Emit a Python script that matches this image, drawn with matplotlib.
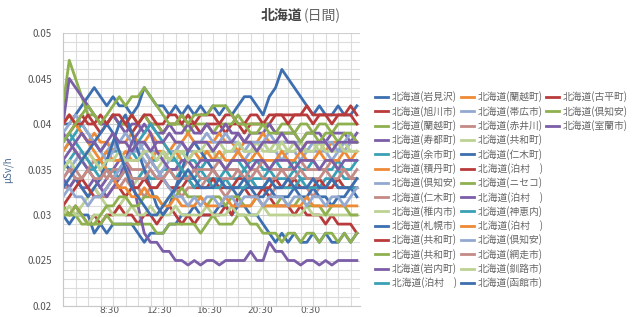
import numpy as np
import matplotlib
matplotlib.use('Agg')
import matplotlib.pyplot as plt
from matplotlib.lines import Line2D

plt.rcParams['font.family'] = ['Noto Sans CJK JP', 'DejaVu Sans']

# 測定時刻 (時, 4:45 から 30 分ごと)
times = 4.75 + 0.5 * np.arange(48)

# 系列名 (凡例の順)
names = [
    '北海道(岩見沢)', '北海道(旭川市)', '北海道(蘭越町)', '北海道(寿都町)', '北海道(余市町)',
    '北海道(積丹町)', '北海道(倶知安)', '北海道(仁木町)', '北海道(稚内市)', '北海道(札幌市)',
    '北海道(共和町)', '北海道(共和町)', '北海道(岩内町)', '北海道(泊村　)', '北海道(蘭越町)',
    '北海道(帯広市)', '北海道(赤井川)', '北海道(共和町)', '北海道(仁木町)', '北海道(泊村　)',
    '北海道(ニセコ)', '北海道(泊村　)', '北海道(神恵内)', '北海道(泊村　)', '北海道(倶知安)',
    '北海道(網走市)', '北海道(釧路市)', '北海道(函館市)', '北海道(古平町)', '北海道(倶知安)',
    '北海道(室蘭市)',
]

# 線量 (0.001 μSv/h 単位)
iwamizawa = [40, 40, 41, 42, 43, 44, 43, 42, 43, 42, 42, 41,
             42, 44, 43, 42, 42, 41, 42, 41, 42, 41, 42, 41,
             42, 41, 42, 41, 42, 43, 43, 42, 41, 43, 44, 46,
             45, 44, 43, 42, 41, 42, 41, 41, 42, 41, 41, 42]
asahikawa = [38, 39, 40, 41, 40, 40, 39, 40, 41, 40, 40, 39,
             40, 41, 40, 40, 39, 40, 40, 41, 40, 40, 39, 40,
             40, 40, 39, 40, 40, 39, 40, 40, 40, 40, 41, 41,
             41, 41, 41, 42, 41, 41, 41, 41, 41, 41, 42, 41]
rankoshi1 = [42, 47, 45, 43, 41, 41, 40, 40, 41, 40, 40, 41,
             40, 41, 40, 40, 39, 40, 40, 40, 39, 40, 40, 40,
             39, 40, 40, 40, 41, 40, 40, 40, 40, 40, 39, 40,
             40, 39, 40, 40, 39, 40, 40, 39, 40, 40, 40, 40]
suttsu = [40, 45, 44, 43, 42, 41, 40, 40, 41, 40, 39, 40,
          40, 39, 40, 39, 39, 40, 39, 39, 40, 39, 39, 40,
          39, 39, 40, 39, 39, 38, 39, 39, 39, 40, 39, 39,
          39, 39, 38, 39, 39, 39, 38, 39, 39, 39, 38, 39]
yoichi = [37, 38, 39, 40, 39, 38, 37, 38, 37, 37, 36, 37,
          36, 37, 36, 36, 37, 36, 36, 37, 36, 36, 35, 36,
          36, 36, 35, 36, 36, 35, 36, 36, 35, 35, 36, 35,
          35, 36, 35, 35, 36, 35, 35, 35, 36, 35, 35, 36]
shakotan = [40, 41, 40, 39, 38, 39, 38, 38, 37, 38, 38, 39,
            38, 38, 39, 38, 38, 37, 38, 38, 39, 38, 38, 38,
            38, 39, 38, 38, 37, 38, 38, 38, 39, 38, 38, 38,
            38, 38, 37, 38, 38, 38, 37, 38, 38, 37, 38, 38]
kutchan1 = [34, 35, 36, 37, 36, 35, 36, 37, 38, 37, 36, 37,
            37, 38, 37, 37, 36, 37, 37, 38, 37, 37, 36, 37,
            37, 36, 37, 37, 37, 36, 37, 37, 38, 37, 37, 36,
            37, 37, 36, 37, 37, 37, 37, 36, 37, 37, 38, 38]
niki1 = [33, 33, 34, 33, 32, 33, 32, 32, 33, 33, 34, 33,
         33, 32, 33, 33, 34, 33, 33, 32, 33, 33, 33, 34,
         33, 33, 32, 33, 33, 33, 34, 33, 33, 32, 33, 33,
         34, 33, 33, 33, 32, 33, 33, 34, 33, 33, 33, 34]
wakkanai = [31, 30, 30, 31, 32, 33, 32, 31, 30, 31, 32, 33,
            34, 35, 36, 35, 36, 37, 36, 37, 37, 38, 37, 37,
            37, 36, 37, 37, 38, 37, 37, 38, 37, 37, 38, 37,
            37, 38, 37, 37, 38, 37, 38, 37, 37, 38, 37, 37]
sapporo = [30, 29, 30, 30, 30, 28, 29, 28, 29, 29, 29, 29,
           28, 27, 28, 28, 28, 29, 29, 30, 30, 31, 30, 30,
           30, 31, 31, 30, 31, 31, 30, 30, 29, 28, 27, 28,
           27, 28, 27, 27, 28, 27, 28, 27, 27, 28, 27, 28]
kyowa1 = [31, 30, 31, 30, 29, 30, 29, 30, 30, 31, 30, 30,
          29, 30, 30, 29, 30, 31, 30, 29, 30, 29, 30, 30,
          30, 30, 31, 30, 32, 33, 32, 32, 33, 32, 31, 31,
          31, 30, 31, 30, 30, 30, 29, 30, 29, 29, 29, 28]
kyowa2 = [31, 30, 30, 29, 29, 29, 29, 30, 29, 29, 29, 29,
          29, 29, 29, 28, 28, 29, 29, 29, 29, 29, 28, 29,
          30, 29, 29, 29, 30, 30, 29, 29, 28, 28, 28, 27,
          28, 28, 27, 28, 28, 27, 28, 28, 27, 28, 27, 28]
iwanai = [34, 33, 34, 33, 33, 34, 33, 34, 35, 36, 36, 34,
          31, 28, 27, 27, 26, 26, 25, 25, 24.5, 25, 24.5, 25,
          25, 24.5, 25, 25, 25, 25, 26, 25, 25, 27, 26, 26,
          25, 25, 24.5, 25, 25, 24.5, 25, 24.5, 25, 25, 25, 25]
tomari1 = [35, 36, 37, 36, 35, 35, 34, 35, 35, 34, 35, 34,
           34, 35, 34, 34, 35, 35, 34, 35, 34, 34, 35, 34,
           34, 34, 35, 34, 34, 35, 34, 34, 34, 35, 34, 34,
           34, 35, 34, 34, 34, 33, 34, 34, 35, 34, 34, 34]
rankoshi2 = [37, 38, 37, 36, 37, 36, 36, 37, 36, 36, 37, 36,
             36, 37, 36, 37, 37, 36, 37, 36, 36, 37, 36, 37,
             36, 37, 36, 36, 37, 36, 36, 37, 36, 36, 36, 37,
             36, 36, 37, 36, 36, 37, 36, 36, 36, 37, 36, 37]
obihiro = [39, 40, 41, 40, 39, 38, 37, 36, 37, 38, 39, 38,
           37, 36, 35, 34, 35, 36, 37, 38, 37, 38, 38, 39,
           38, 38, 39, 38, 38, 37, 38, 38, 38, 39, 38, 38,
           38, 38, 38, 37, 38, 38, 38, 38, 37, 38, 39, 38]
akaigawa = [36, 35, 35, 34, 35, 36, 35, 34, 35, 35, 36, 35,
            35, 35, 36, 35, 34, 35, 35, 35, 36, 35, 35, 35,
            35, 36, 35, 35, 35, 34, 35, 35, 36, 35, 35, 35,
            35, 35, 36, 35, 35, 35, 35, 36, 35, 35, 34, 35]
kyowa3 = [30, 31, 30, 30, 29, 30, 30, 31, 30, 30, 30, 31,
          30, 30, 31, 30, 30, 30, 31, 30, 30, 30, 30, 31,
          30, 30, 30, 31, 30, 30, 30, 30, 31, 30, 30, 30,
          30, 30, 30, 31, 30, 30, 30, 30, 30, 30, 30, 30]
niki2 = [36, 35, 34, 33, 32, 33, 34, 36, 38, 40, 41, 39,
         37, 35, 33, 31, 30, 31, 33, 35, 37, 38, 37, 36,
         35, 34, 33, 33, 32, 33, 33, 32, 32, 33, 32, 32,
         32, 33, 32, 32, 33, 32, 32, 31, 32, 32, 33, 32]
tomari2 = [31, 32, 33, 34, 33, 32, 32, 33, 34, 33, 32, 33,
           33, 34, 33, 33, 34, 33, 33, 33, 34, 33, 33, 33,
           34, 33, 33, 33, 34, 34, 33, 33, 33, 33, 34, 33,
           33, 34, 33, 33, 33, 34, 33, 33, 34, 33, 33, 33]
niseko = [30, 30, 31, 30, 29, 29, 30, 31, 31, 32, 32, 31,
          31, 32, 32, 32, 31, 32, 32, 33, 32, 32, 32, 31,
          32, 32, 31, 32, 32, 31, 31, 32, 31, 31, 31, 32,
          31, 31, 32, 31, 31, 31, 30, 31, 31, 31, 30, 30]
tomari3 = [39, 38, 37, 36, 35, 34, 33, 32, 33, 34, 36, 38,
           39, 40, 39, 37, 36, 35, 35, 36, 36, 35, 36, 36,
           36, 36, 35, 36, 36, 36, 35, 36, 36, 35, 36, 36,
           36, 35, 36, 36, 36, 35, 36, 36, 35, 36, 36, 36]
kamoenai = [38, 39, 38, 37, 36, 35, 36, 35, 34, 35, 36, 37,
            38, 39, 40, 39, 38, 37, 36, 35, 34, 33, 34, 34,
            33, 33, 34, 33, 33, 33, 34, 33, 33, 34, 33, 33,
            33, 33, 34, 33, 33, 33, 33, 34, 33, 33, 33, 33]
tomari4 = [40, 41, 40, 39, 38, 37, 36, 35, 34, 33, 33, 32,
           32, 33, 32, 32, 31, 31, 32, 31, 31, 31, 32, 31,
           31, 31, 32, 31, 31, 31, 31, 32, 31, 31, 31, 31,
           31, 31, 31, 32, 31, 31, 31, 31, 31, 31, 31, 31]
kutchan2 = [32, 33, 32, 32, 31, 32, 32, 33, 34, 35, 36, 37,
            38, 37, 36, 35, 34, 33, 32, 32, 31, 32, 31, 32,
            32, 31, 32, 32, 31, 32, 32, 32, 31, 32, 32, 32,
            31, 32, 32, 31, 32, 32, 31, 32, 32, 31, 32, 33]
abashiri = [34, 35, 34, 34, 35, 34, 34, 35, 34, 34, 35, 34,
            34, 34, 35, 34, 34, 35, 34, 34, 34, 35, 34, 34,
            35, 34, 34, 34, 35, 34, 34, 35, 34, 34, 34, 35,
            34, 34, 35, 34, 34, 34, 35, 34, 34, 35, 34, 34]
kushiro = [35, 36, 35, 36, 37, 36, 35, 36, 36, 37, 36, 36,
           36, 37, 37, 36, 37, 36, 37, 37, 36, 37, 37, 38,
           37, 38, 37, 37, 38, 37, 37, 37, 38, 37, 37, 38,
           37, 37, 38, 37, 37, 38, 37, 37, 38, 37, 37, 37]
hakodate = [33, 34, 35, 36, 37, 38, 39, 40, 39, 37, 35, 33,
            32, 31, 30, 30, 31, 32, 33, 34, 35, 34, 33, 33,
            33, 34, 33, 33, 33, 34, 33, 33, 33, 34, 33, 33,
            34, 33, 33, 33, 34, 33, 33, 34, 33, 33, 33, 34]
furubira = [40, 41, 40, 40, 41, 40, 41, 40, 41, 41, 40, 41,
            40, 41, 41, 40, 40, 41, 41, 40, 41, 40, 41, 41,
            41, 40, 41, 41, 40, 40, 41, 41, 40, 41, 41, 41,
            40, 41, 41, 41, 40, 41, 41, 40, 41, 41, 41, 40]
kutchan3 = [38, 39, 40, 41, 42, 41, 40, 41, 42, 43, 42, 43,
            43, 44, 43, 42, 41, 40, 40, 41, 40, 41, 41, 41,
            42, 42, 42, 41, 40, 40, 39, 39, 40, 39, 39, 39,
            39, 39, 38, 39, 39, 38, 39, 39, 38, 39, 39, 38]
muroran = [36, 37, 38, 39, 38, 38, 37, 38, 39, 38, 38, 37,
           38, 38, 37, 38, 38, 39, 38, 38, 37, 38, 38, 38,
           37, 38, 38, 38, 39, 38, 38, 37, 38, 38, 38, 39,
           38, 38, 37, 38, 38, 38, 38, 37, 38, 38, 38, 38]

series = [iwamizawa, asahikawa, rankoshi1, suttsu, yoichi, shakotan, kutchan1,
          niki1, wakkanai, sapporo, kyowa1, kyowa2, iwanai, tomari1, rankoshi2,
          obihiro, akaigawa, kyowa3, niki2, tomari2, niseko, tomari3, kamoenai,
          tomari4, kutchan2, abashiri, kushiro, hakodate, furubira, kutchan3, muroran]

# 色 (Excel 風の 9 色を繰り返す)
palette = ['#3d6fb0', '#b93a3a', '#8eb04e', '#7b5ea7', '#3aa0b5',
           '#ee8a35', '#93a9d2', '#c48a85', '#bcd293']
colors = [palette[i % 9] for i in range(len(series))]

fig = plt.figure(figsize=(6.4, 3.17), dpi=100)
ax = fig.add_axes([63 / 640, 1 - 306 / 317, 297 / 640, 273 / 317])

for vals, c in zip(series, colors):
    ax.plot(times, np.array(vals) / 1000, color=c, lw=2.0, solid_joinstyle='round')

ax.set_xlim(4.75, 28.5)
ax.set_ylim(0.02, 0.05)

# 目盛り
ax.set_xticks([8.5, 12.5, 16.5, 20.5, 24.5])
ax.set_xticklabels(['8:30', '12:30', '16:30', '20:30', '0:30'])
ax.set_xticks(4.75 + np.arange(24), minor=True)
yt = [0.02, 0.025, 0.03, 0.035, 0.04, 0.045, 0.05]
ax.set_yticks(yt)
ax.set_yticklabels(['%g' % v for v in yt])
ax.set_yticks(np.arange(0.02, 0.0501, 0.001), minor=True)
ax.tick_params(which='both', length=0, labelsize=7, labelcolor='#555555')
ax.tick_params(axis='x', pad=0)
ax.tick_params(axis='y', pad=8)
for lab in ax.get_xticklabels():
    lab.set_family('DejaVu Sans')
    lab.set_fontsize(6.5)

ax.grid(which='minor', axis='both', color='#dcdcdc', lw=0.8)
ax.grid(which='major', axis='y', color='#cfcfcf', lw=0.8)
ax.set_axisbelow(True)
for s in ['top', 'right']:
    ax.spines[s].set_visible(False)
ax.spines['left'].set_color('#c8c8c8')
ax.spines['bottom'].set_color('#c8c8c8')

ax.set_ylabel('μSv/h', fontsize=7, color='#4a6a90', labelpad=10)

# タイトル
fig.text(302 / 640, 1 - 16 / 317, '北海道', fontsize=10, fontweight='bold',
         color='#444444', ha='right', va='center')
fig.text(304 / 640, 1 - 16 / 317, '(日間)', fontsize=10,
         color='#666666', ha='left', va='center')

# 凡例 (14 行ずつ縦に並べる)
for i, (name, c) in enumerate(zip(names, colors)):
    col, row = divmod(i, 14)
    x0 = 375 + col * 85.5
    y0 = 1 - (97 + row * 14.3) / 317
    fig.add_artist(Line2D([x0 / 640, (x0 + 13) / 640], [y0, y0], color=c, lw=2.0))
    fig.text((x0 + 17) / 640, y0, name, fontsize=7, color='#666666', va='center', ha='left')

fig.savefig('out.png', dpi=100)
